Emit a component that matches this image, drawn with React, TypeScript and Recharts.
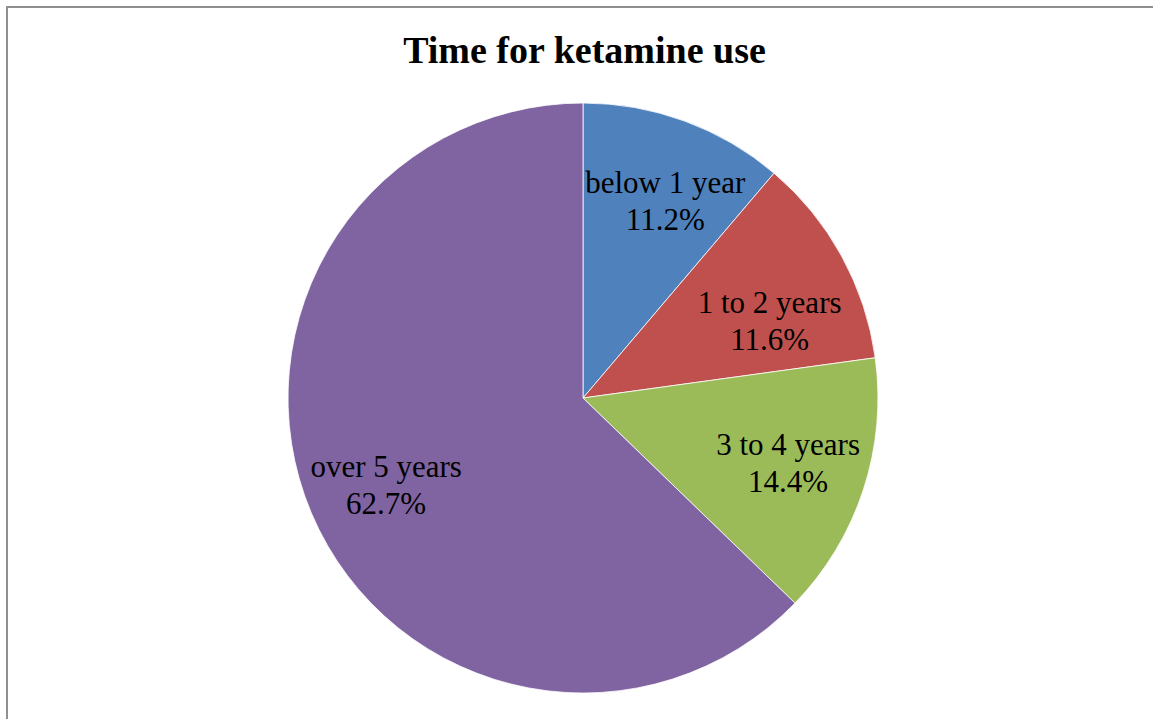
import React from "react";
import { PieChart, Pie, Cell } from "recharts";

// Duration of ketamine use, share of respondents (%)
const categories = ["below 1 year", "1 to 2 years", "3 to 4 years", "over 5 years"];
const shares = [11.2, 11.6, 14.4, 62.7];
const colors = ["#4F81BD", "#C0504D", "#9BBB59", "#8064A2"];

const data = categories.map((name, i) => ({ name, value: shares[i] }));

const WIDTH = 1153;
const HEIGHT = 719;
const FONT = '"Liberation Serif", "Times New Roman", serif';

// small per-label shifts so the text sits where it reads best inside each slice
const LABEL_NUDGE: [number, number][] = [
  [10, 0],
  [3, 24],
  [6, 0],
  [-4, 5],
];

const RADIAN = Math.PI / 180;
const renderLabel = ({ cx, cy, midAngle, outerRadius, index, name, value }: any) => {
  const r = outerRadius * 0.71;
  const [nx, ny] = LABEL_NUDGE[index] || [0, 0];
  const x = cx + r * Math.cos(-midAngle * RADIAN) + nx;
  const y = cy + r * Math.sin(-midAngle * RADIAN) + ny;
  return (
    <text
      x={x}
      y={y}
      fill="#000"
      textAnchor="middle"
      fontFamily={FONT}
      fontSize={31}
    >
      <tspan x={x} y={y - 8}>{name}</tspan>
      <tspan x={x} y={y + 29}>{`${value.toFixed(1)}%`}</tspan>
    </text>
  );
};

export default function App() {
  return (
    <div
      style={{
        position: "absolute",
        left: 0,
        top: 0,
        width: WIDTH,
        height: HEIGHT,
        overflow: "hidden",
        background: "#fff",
      }}
    >
      <div
        style={{
          position: "absolute",
          left: 6,
          top: 6,
          width: 1300,
          height: 900,
          border: "2px solid #8f8f8f",
        }}
      />
      <div
        style={{
          position: "absolute",
          left: 0,
          top: 31,
          width: 1169,
          textAlign: "center",
          fontFamily: FONT,
          fontWeight: "bold",
          fontSize: 38,
          lineHeight: "38px",
          color: "#000",
        }}
      >
        Time for ketamine use
      </div>
      <div style={{ position: "absolute", left: 0, top: 0 }}>
        <PieChart
          width={WIDTH}
          height={HEIGHT}
          margin={{ top: 0, right: 0, bottom: 0, left: 0 }}
        >
          <Pie
            data={data}
            dataKey="value"
            nameKey="name"
            cx={583}
            cy={398}
            outerRadius={295}
            startAngle={90}
            endAngle={-270}
            stroke="#ffffff"
            strokeWidth={0.8}
            labelLine={false}
            label={renderLabel}
            isAnimationActive={false}
          >
            {data.map((entry, index) => (
              <Cell key={`cell-${index}`} fill={colors[index]} />
            ))}
          </Pie>
        </PieChart>
      </div>
    </div>
  );
}
